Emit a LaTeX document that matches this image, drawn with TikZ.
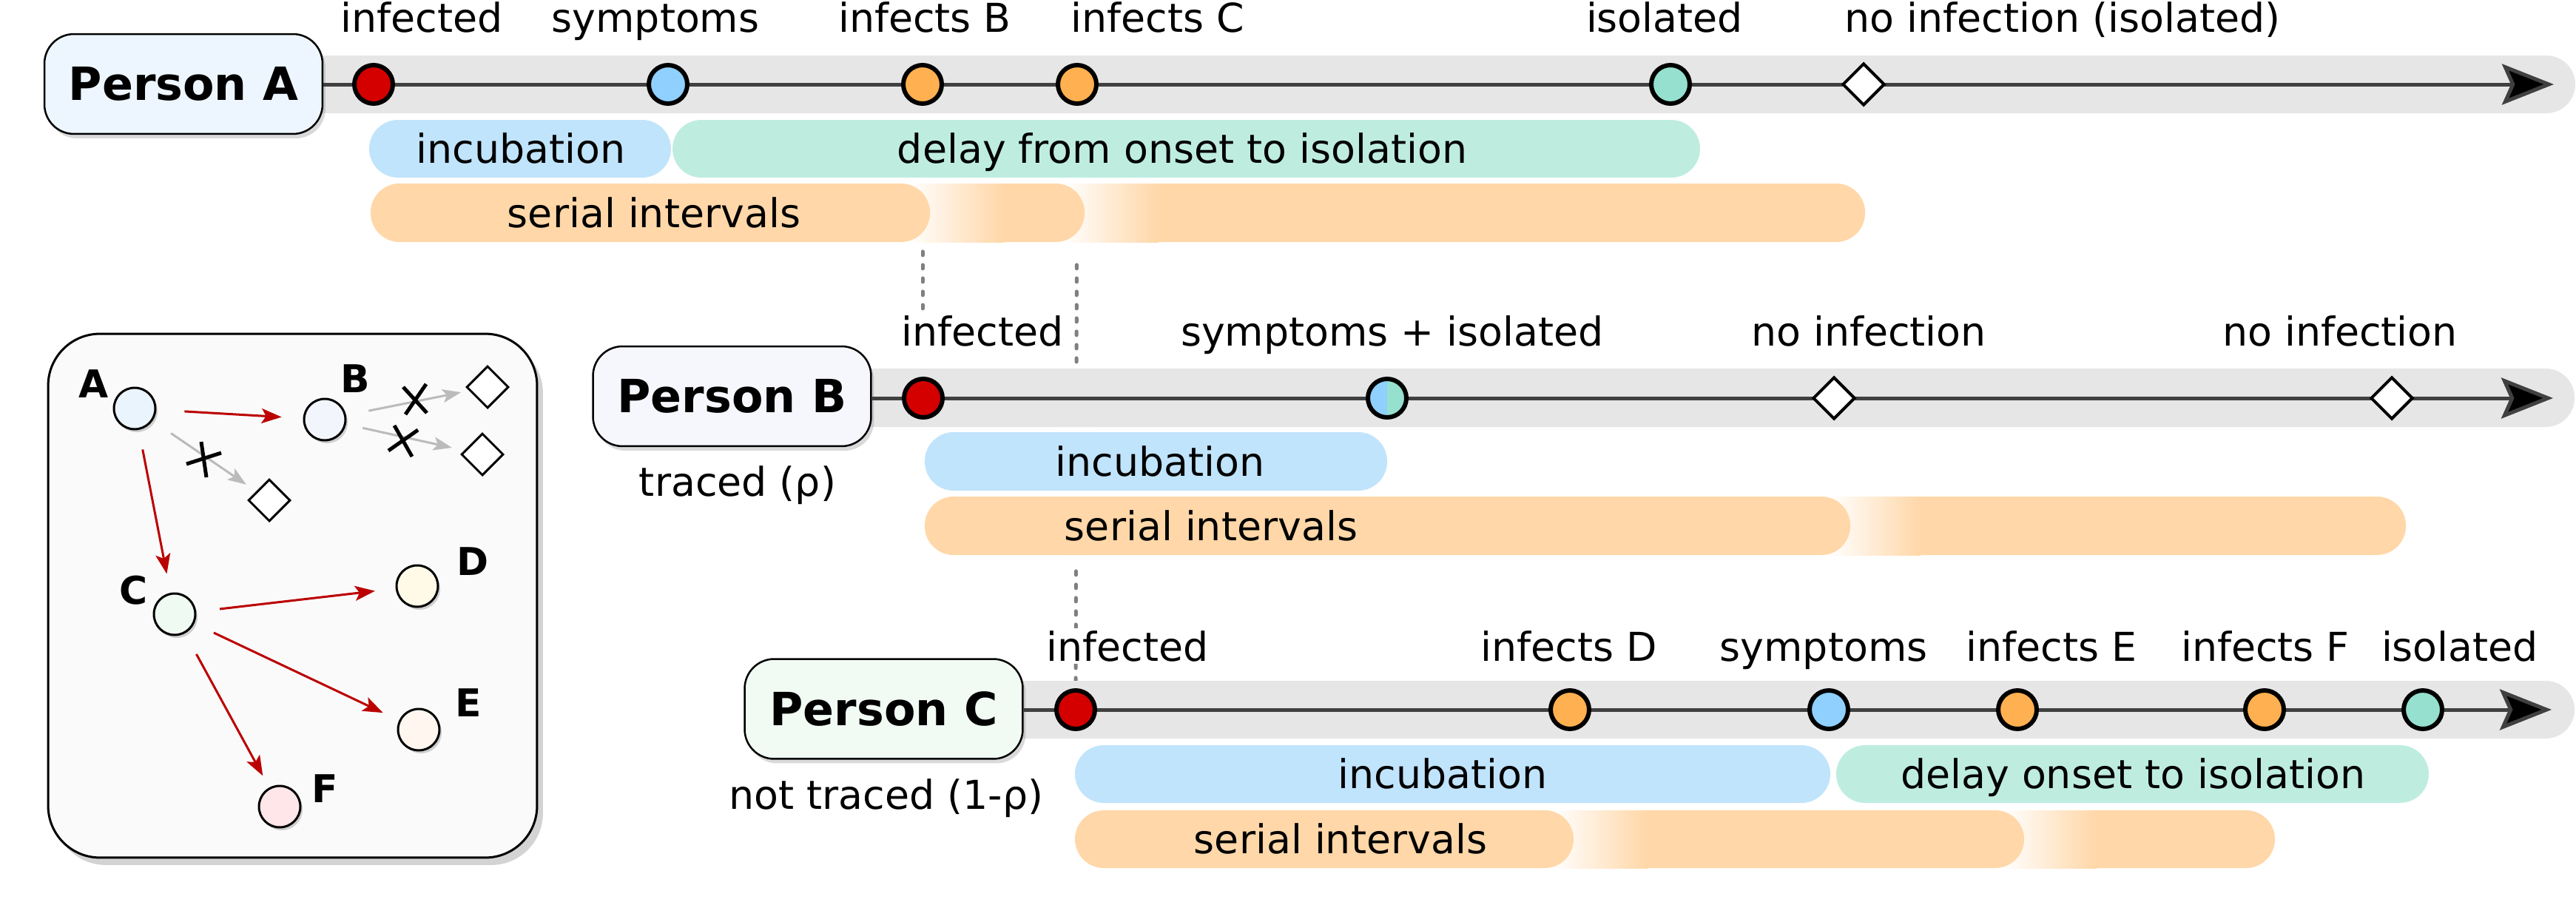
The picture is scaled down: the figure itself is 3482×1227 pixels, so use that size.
\documentclass[tikz,border=0pt]{standalone}
\usepackage{fontspec}
\setmainfont{DejaVu Sans}
\usetikzlibrary{arrows.meta,shapes.geometric,shadows}
\pgfdeclarelayer{background}
\pgfsetlayers{background,main}
\definecolor{bandgray}{HTML}{E6E6E6}
\definecolor{incblue}{HTML}{C0E4FC}
\definecolor{delaymint}{HTML}{BEEDE0}
\definecolor{serorange}{HTML}{FFD7A8}
\definecolor{infred}{HTML}{D40000}
\definecolor{symblue}{HTML}{8FD0FF}
\definecolor{infor}{HTML}{FFB050}
\definecolor{isomint}{HTML}{95E0CF}
\definecolor{linegray}{HTML}{404040}
\definecolor{pAfill}{HTML}{EDF6FE}
\definecolor{pBfill}{HTML}{F6F7FD}
\definecolor{pCfill}{HTML}{F1FBF4}
\definecolor{netfill}{HTML}{FAFAFA}
\definecolor{arrred}{HTML}{BB0000}
\definecolor{arrgray}{HTML}{BBBBBB}
\definecolor{dashgray}{HTML}{808080}
\definecolor{nAfill}{HTML}{EAF4FD}
\definecolor{nBfill}{HTML}{F3F5FD}
\definecolor{nCfill}{HTML}{EFFAF3}
\definecolor{nDfill}{HTML}{FFF9E8}
\definecolor{nEfill}{HTML}{FFF6F0}
\definecolor{nFfill}{HTML}{FFE6E8}
\newcommand{\tlfont}{\fontsize{30.6}{36}\selectfont}
\newcommand{\pfont}{\fontsize{35.2}{40}\selectfont\bfseries}
\newcommand{\nfont}{\fontsize{29.5}{32}\selectfont\bfseries}
% serial interval segment: start, fade length, end, top, bottom
\newcommand{\serseg}[5]{%
  \fill[serorange, rounded corners=7.8mm] (#1,#4) rectangle (#3,#5);
  \shade[left color=white, right color=serorange] ({#1-30},#4) rectangle ({#1+#2},#5);}
\begin{document}
\begin{tikzpicture}[x=0.02cm,y=-0.02cm,
  tlabel/.style={anchor=base, font=\tlfont, fill=white, inner sep=0.6mm},
  bartext/.style={anchor=base, font=\tlfont, inner sep=0},
  personbox/.style={draw=black, line width=0.5mm, rounded corners=8mm, minimum width=75.2mm, minimum height=27mm, inner sep=0, font=\pfont, drop shadow={shadow xshift=0.8mm, shadow yshift=-1.2mm, opacity=0.3}},
  tcirc/.style={circle, draw=black, line width=1.2mm, minimum size=10.4mm, inner sep=0},
  tdiam/.style={diamond, aspect=1, draw=black, line width=0.8mm, fill=white, minimum width=11.4mm, minimum height=11.4mm, inner sep=0},
  tline/.style={draw=linegray, line width=1mm, -{Stealth[length=14mm, width=11mm, inset=2.4mm, fill=black]}},
  dashline/.style={draw=dashgray, line width=1mm, line cap=round, dash pattern=on 1mm off 2.6mm},
  netbox/.style={draw=black, line width=0.6mm, fill=netfill, rounded corners=14mm, minimum width=132.2mm, minimum height=141.6mm, inner sep=0, drop shadow={shadow xshift=1.6mm, shadow yshift=-2mm, opacity=0.35}},
  ncirc/.style={circle, draw=black, line width=0.6mm, minimum size=11.2mm, inner sep=0, drop shadow={shadow xshift=0.6mm, shadow yshift=-0.8mm, opacity=0.35}},
  ndiam/.style={diamond, aspect=1, draw=black, line width=0.6mm, fill=white, minimum width=11.4mm, minimum height=11.4mm, inner sep=0},
  nlabel/.style={font=\nfont, inner sep=0},
  redarr/.style={draw=arrred, line width=0.6mm, -{Stealth[length=5.4mm, width=4mm, inset=1.2mm]}},
  grayarr/.style={draw=arrgray, line width=0.6mm, -{Stealth[length=5mm, width=3.6mm, inset=1.1mm]}},
  xmark/.style={draw=black, line width=1mm},
]
\useasboundingbox (0,0) rectangle (3482,1227);

% ---------------- bands ----------------
\fill[bandgray, rounded corners=7.8mm] (400,75) rectangle (3481,153);
\fill[bandgray, rounded corners=7.8mm] (1142,498) rectangle (3480,577);
\fill[bandgray, rounded corners=7.8mm] (1347,920) rectangle (3480,998);

% ---------------- person boxes ----------------
\node[personbox, fill=pAfill] (pA) at (248,113.5) {Person A};
\node[personbox, fill=pBfill] (pB) at (989.5,535.5) {Person B};
\node[personbox, fill=pCfill] (pC) at (1194.5,958) {Person C};

\node[anchor=base, font=\tlfont, inner sep=0] (trB) at (997,670) {traced (ρ)};
\node[anchor=base, font=\tlfont, inner sep=0] (trC) at (1198,1093) {not traced (1-ρ)};

% ---------------- timeline lines ----------------
\coordinate (aEnd) at (3452,114);
\coordinate (bEnd) at (3451,538);
\coordinate (cEnd) at (3449,959);
\draw[tline] (pA.east |- aEnd) -- (aEnd);
\draw[tline] (pB.east |- bEnd) -- (bEnd);
\draw[tline] (pC.east |- cEnd) -- (cEnd);

% ---------------- Person A ----------------
\node[tcirc, fill=infred] (aInf) at (505,114) {};
\node[tcirc, fill=symblue] (aSym) at (903,114) {};
\node[tcirc, fill=infor] (aB) at (1247,114) {};
\node[tcirc, fill=infor] (aC) at (1456,114) {};
\node[tcirc, fill=isomint] (aIso) at (2258,114) {};
\node[tdiam] (aNo) at (2519,114) {};

\node[tlabel] (laInf) at (570,43) {infected};
\node[tlabel] (laSym) at (886,43) {symptoms};
\node[tlabel] (laB) at (1250,43) {infects B};
\node[tlabel] (laC) at (1565,43) {infects C};
\node[tlabel] (laIso) at (2250,43) {isolated};
\node[tlabel] (laNo) at (2788,43) {no infection (isolated)};

\fill[incblue, rounded corners=7.8mm] (499,162) rectangle (907,240);
\fill[delaymint, rounded corners=7.8mm] (909,162) rectangle (2298,240);
\serseg{1466}{100}{2521}{248}{327}
\serseg{1257}{100}{1466}{248}{327}
\fill[serorange, rounded corners=7.8mm] (501,248) rectangle (1257,327);
\node[bartext] (taInc) at (704,220) {incubation};
\node[bartext] (taDel) at (1598,220) {delay from onset to isolation};
\node[bartext] (taSer) at (884,307) {serial intervals};

% ---------------- Person B ----------------
\node[tcirc, fill=infred] (bInf) at (1248,538) {};
\node[tcirc, fill=symblue, path picture={\fill[isomint] (path picture bounding box.north) rectangle (path picture bounding box.south east);}] (bSym) at (1875,538) {};
\node[tdiam] (bNo1) at (2479,538) {};
\node[tdiam] (bNo2) at (3233,538) {};

\node[tlabel] (lbInf) at (1328,467) {infected};
\node[tlabel] (lbSym) at (1882,467) {symptoms + isolated};
\node[tlabel] (lbNo1) at (2526,467) {no infection};
\node[tlabel] (lbNo2) at (3163,467) {no infection};

\fill[incblue, rounded corners=7.8mm] (1250,584) rectangle (1875,663);
\serseg{2501}{95}{3252}{671}{750}
\fill[serorange, rounded corners=7.8mm] (1250,671) rectangle (2501,750);
\node[bartext] (tbInc) at (1568,643) {incubation};
\node[bartext] (tbSer) at (1637,730) {serial intervals};

% ---------------- Person C ----------------
\node[tcirc, fill=infred] (cInf) at (1454,959) {};
\node[tcirc, fill=infor] (cD) at (2122,959) {};
\node[tcirc, fill=symblue] (cSym) at (2472,959) {};
\node[tcirc, fill=infor] (cE) at (2727,959) {};
\node[tcirc, fill=infor] (cF) at (3061,959) {};
\node[tcirc, fill=isomint] (cIso) at (3275,959) {};

\node[tlabel] (lcInf) at (1524,893) {infected};
\node[tlabel] (lcD) at (2121,893) {infects D};
\node[tlabel] (lcSym) at (2465,893) {symptoms};
\node[tlabel] (lcE) at (2773,893) {infects E};
\node[tlabel] (lcF) at (3062,893) {infects F};
\node[tlabel] (lcIso) at (3325,893) {isolated};

\fill[incblue, rounded corners=7.8mm] (1453,1007) rectangle (2474,1085);
\fill[delaymint, rounded corners=7.8mm] (2482,1007) rectangle (3283,1085);
\serseg{2736}{98}{3075}{1095}{1173}
\serseg{2127}{100}{2736}{1095}{1173}
\fill[serorange, rounded corners=7.8mm] (1453,1095) rectangle (2127,1173);
\node[bartext] (tcInc) at (1950,1065) {incubation};
\node[bartext] (tcDel) at (2883,1065) {delay onset to isolation};
\node[bartext] (tcSer) at (1812,1153) {serial intervals};

% ---------------- dashed links ----------------
\begin{pgfonlayer}{background}
\draw[dashline, shorten <=39.4mm] (aB) -- (aB |- lbInf.north);
\draw[dashline, shorten <=43mm] (aC) -- (cInf);
\fill[white] (1430,494) rectangle (1480,764);
\end{pgfonlayer}

% ---------------- network ----------------
\node[netbox] (net) at (395.5,805) {};
\node[ncirc, fill=nAfill] (nA) at (182,552) {};
\node[ncirc, fill=nBfill] (nB) at (439,567) {};
\node[ncirc, fill=nCfill] (nC) at (236,830) {};
\node[ncirc, fill=nDfill] (nD) at (564,792) {};
\node[ncirc, fill=nEfill] (nE) at (566,986) {};
\node[ncirc, fill=nFfill] (nF) at (378,1090) {};
\node[ndiam] (dA) at (364,676) {};
\node[ndiam] (dB1) at (659,523) {};
\node[ndiam] (dB2) at (652,614) {};

\node[nlabel] (lA) at (127,519) {A};
\node[nlabel] (lB) at (480,512) {B};
\node[nlabel] (lC) at (181,798) {C};
\node[nlabel] (lD) at (639,759) {D};
\node[nlabel] (lE) at (633,950) {E};
\node[nlabel] (lF) at (439,1066) {F};

\draw[redarr, shorten <=7.6mm, shorten >=5.8mm] (nA) -- (nB);
\draw[redarr, shorten <=5.4mm, shorten >=5.2mm] (nA) -- (nC);
\draw[redarr, shorten <=6.4mm, shorten >=5.6mm] (nC) -- (nD);
\draw[redarr, shorten <=5.8mm, shorten >=4.8mm] (nC) -- (nE);
\draw[redarr, shorten <=6.4mm, shorten >=3.6mm] (nC) -- (nF);
\draw[grayarr, shorten <=6mm, shorten >=3.2mm] (nA) -- (dA);
\draw[grayarr, shorten <=6.2mm, shorten >=2.2mm] (nB) -- (dB1);
\draw[grayarr, shorten <=4.6mm, shorten >=3.4mm] (nB) -- (dB2);

\draw[xmark] (252,627) -- (299,612) (272,597) -- (279,645);
\draw[xmark] (545,523) -- (577,558) (548,560) -- (576,519);
\draw[xmark] (533,575) -- (557,617) (525,609) -- (565,581);
\end{tikzpicture}
\end{document}
